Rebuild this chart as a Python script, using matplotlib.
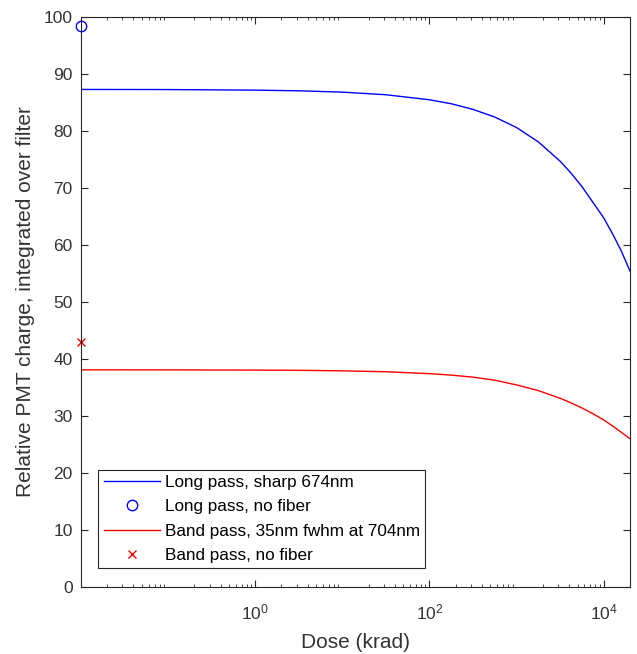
import matplotlib.pyplot as plt
import numpy as np

plt.rcParams['font.family'] = ['Liberation Sans', 'DejaVu Sans']

# values (dose in krad)
dose = [0.01, 0.1, 1, 3.16, 10, 31.6, 100, 178, 316, 562, 1000, 1778, 3162,
        4217, 5623, 7499, 10000, 12589, 15849, 20000]
long_pass = [87.29, 87.27, 87.17, 87.05, 86.82, 86.36, 85.48, 84.78, 83.79, 82.44,
             80.6, 78.08, 74.69, 72.6, 70.24, 67.5, 64.74, 61.99, 58.99, 55.43]
band_pass = [38.1, 38.09, 38.05, 38.01, 37.92, 37.76, 37.43, 37.17, 36.81, 36.28,
             35.45, 34.45, 33.1, 32.3, 31.4, 30.4, 29.3, 28.25, 27.15, 26.0]

nofiber_dose = [0.01]
long_nofiber = [98.4]
band_nofiber = [42.9]

fig = plt.figure(figsize=(6.37, 6.54), dpi=100)
ax = fig.add_axes([0.127, 0.1025, 0.862, 0.8715])

ax.plot(dose, long_pass, color='#0000ff', lw=1, label='Long pass, sharp 674nm')
ax.plot(nofiber_dose, long_nofiber, 'o', mfc='none', mec='#0000ff', ms=7.5, mew=1,
        clip_on=False, label='Long pass, no fiber')
ax.plot(dose, band_pass, color='#ff0000', lw=1, label='Band pass, 35nm fwhm at 704nm')
ax.plot(nofiber_dose, band_nofiber, 'x', color='#ff0000', ms=6, mew=1,
        clip_on=False, label='Band pass, no fiber')

ax.set_xscale('log')
ax.set_xlim(0.01, 2e4)
ax.set_ylim(0, 100)
ax.set_yticks(np.arange(0, 101, 10))
ax.set_xticks([1, 100, 1e4])
ax.set_xticklabels([r'$\mathregular{10^0}$', r'$\mathregular{10^2}$', r'$\mathregular{10^4}$'])

ax.tick_params(which='both', direction='in', top=True, right=True, colors='#262626',
               labelsize=12.5, labelcolor='#333333')
ax.tick_params(which='major', length=5)
ax.tick_params(which='minor', length=2.5)
ax.tick_params(axis='x', pad=11)
ax.tick_params(axis='y', pad=6)
for s in ax.spines.values():
    s.set_color('#262626')
    s.set_linewidth(0.8)

ax.set_xlabel('Dose (krad)', fontsize=15, color='#333333', labelpad=8)
ax.set_ylabel('Relative PMT charge, integrated over filter', fontsize=15,
              color='#333333', labelpad=6)

leg = ax.legend(loc='lower left', bbox_to_anchor=(0.032, 0.033), fontsize=12.3,
                fancybox=False, framealpha=1, edgecolor='#262626',
                handlelength=3.3, borderpad=0.3, labelspacing=0.55, handletextpad=0.3,
                borderaxespad=0)
leg.get_frame().set_linewidth(0.8)

fig.savefig('out.png', dpi=100)
